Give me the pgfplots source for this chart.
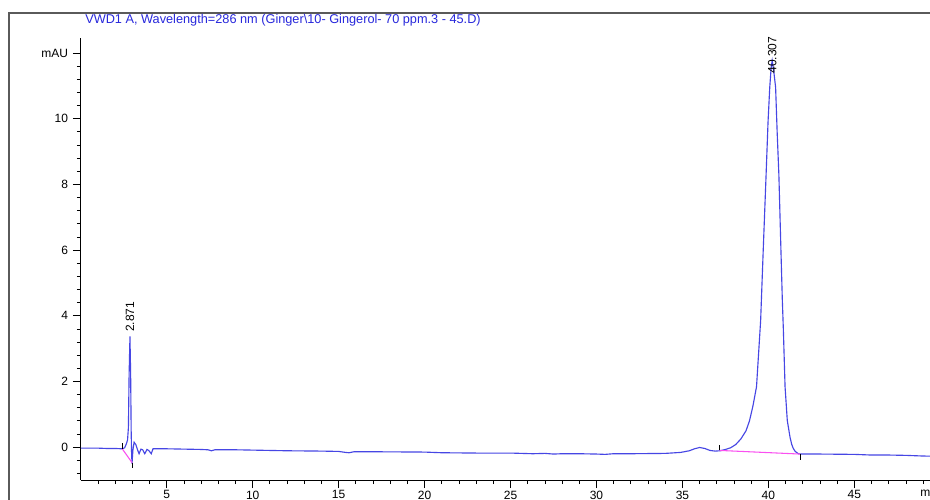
\documentclass[border=0pt]{standalone}
\usepackage{fontspec}
\setmainfont{Liberation Sans}
\usepackage{pgfplots}
\pgfplotsset{compat=1.18}
\definecolor{trace}{RGB}{70,70,228}
\definecolor{bline}{RGB}{250,80,240}
\definecolor{ttl}{RGB}{40,40,220}
\definecolor{frm}{RGB}{90,90,90}
\begin{document}
\begin{tikzpicture}
\useasboundingbox (0pt,0pt) rectangle (697.5pt,374.25pt);
\clip (0pt,0pt) rectangle (697.5pt,374.25pt);
\begin{scope}[x=0.75pt,y=0.75pt]
\fill[white] (0,0) rectangle (930,499);
\draw[frm,line width=1.3pt] (9,-5) -- (9,486) -- (935,486);
\node[anchor=west,inner sep=0,text=ttl,font=\fontsize{9.55}{10}\selectfont] at (85,479) {VWD1 A, Wavelength=286 nm (Ginger\textbackslash 10- Gingerol- 70 ppm.3 - 45.D)};
\node[anchor=north west,inner sep=0,font=\fontsize{9}{10}\selectfont] at (920,11) {min};
\end{scope}
\begin{axis}[
  at={(60.6pt,14.25pt)}, anchor=south west,
  scale only axis, width=644.6pt, height=331.3pt,
  xmin=0, xmax=50, ymin=-1, ymax=12.45,
  axis x line*=bottom, axis y line*=left,
  axis line style={-,black,line width=0.6pt},
  tick align=outside,
  major tick length=6pt, minor tick length=3pt,
  every tick/.style={black,line width=0.6pt},
  xtick={5,10,...,45},
  xticklabels={5,10,15,20,25,30,35,40,45},
  minor xtick={1,2,3,4,6,7,8,9,11,12,13,14,16,17,18,19,21,22,23,24,26,27,28,29,31,32,33,34,36,37,38,39,41,42,43,44,46,47,48,49},
  ytick={0,2,4,6,8,10,12},
  yticklabels={0,2,4,6,8,10,mAU},
  minor ytick={-0.8,-0.4,0.4,0.8,1.2,1.6,2.4,2.8,3.2,3.6,4.4,4.8,5.2,5.6,6.4,6.8,7.2,7.6,8.4,8.8,9.2,9.6,10.4,10.8,11.2,11.6},
  /pgf/number format/assume math mode=true,
  tick label style={font=\fontsize{9}{10}\selectfont},
  xticklabel style={yshift=1.5pt},
  clip=false,
]
\addplot[trace,line width=0.85pt] coordinates {
(0,-0.03) (0.5,-0.03) (1.0,-0.03) (1.5,-0.04) (2.0,-0.04) (2.41,-0.05)
(2.55,-0.02) (2.65,0.1) (2.72,0.22) (2.77,0.6) (2.81,2.2) (2.86,3.37)
(2.9,2.2) (2.93,0.5) (2.955,-0.2) (2.98,-0.5) (3.03,-0.1) (3.1,0.15)
(3.2,0.08) (3.3,-0.08) (3.39,-0.2) (3.5,-0.06) (3.6,-0.08) (3.72,-0.2)
(3.85,-0.07) (3.95,-0.1) (4.1,-0.2) (4.2,-0.05) (5,-0.05) (6,-0.06)
(7,-0.07) (7.4,-0.08) (7.6,-0.11) (7.8,-0.08) (9,-0.08) (10,-0.09)
(12,-0.11) (14,-0.12) (15,-0.13) (15.4,-0.16) (15.6,-0.17) (15.9,-0.14)
(17,-0.14) (20,-0.15) (21,-0.17) (23,-0.18) (25,-0.18) (26.3,-0.2)
(27,-0.19) (27.5,-0.21) (28,-0.2) (29,-0.2) (30,-0.21) (30.5,-0.22)
(31,-0.2) (32,-0.2) (34,-0.19) (34.9,-0.16) (35.4,-0.11) (35.7,-0.05)
(36.0,-0.01) (36.3,-0.04) (36.6,-0.10) (36.9,-0.12) (37.2,-0.11)
(37.5,-0.07) (37.8,-0.02) (38.1,0.08) (38.4,0.25) (38.7,0.5) (38.9,0.8)
(39.1,1.25) (39.31,1.84) (39.55,3.86) (39.7,6.0) (39.86,8.2) (39.98,9.9)
(40.08,10.96) (40.16,11.55) (40.22,11.77) (40.3,11.5) (40.42,10.96)
(40.51,9.6) (40.61,8.3) (40.73,6.0) (40.81,4.5) (40.87,3.6) (40.97,1.84)
(41.1,0.81) (41.26,0.3) (41.36,0.08) (41.45,-0.04) (41.56,-0.13)
(41.74,-0.2) (41.9,-0.21) (43,-0.21) (45,-0.22) (46,-0.24) (47,-0.24)
(48,-0.25) (49,-0.27) (50,-0.28)
};
\addplot[bline,line width=0.8pt] coordinates {(2.41,-0.05) (2.98,-0.47)};
\addplot[bline,line width=0.8pt] coordinates {(37.17,-0.1) (41.84,-0.21)};
\addplot[black,line width=0.6pt] coordinates {(2.41,-0.05) (2.41,0.12)};
\addplot[black,line width=0.6pt] coordinates {(2.98,-0.47) (2.98,-0.64)};
\addplot[black,line width=0.6pt] coordinates {(37.17,-0.1) (37.17,0.07)};
\addplot[black,line width=0.6pt] coordinates {(41.84,-0.21) (41.84,-0.38)};
\node[rotate=90,anchor=west,inner sep=0,font=\fontsize{9}{10}\selectfont] at (axis cs:2.86,3.5) {2.871};
\node[rotate=90,anchor=west,inner sep=0,font=\fontsize{9}{10}\selectfont] at (axis cs:40.22,11.37) {40.307};
\end{axis}
\end{tikzpicture}
\end{document}
